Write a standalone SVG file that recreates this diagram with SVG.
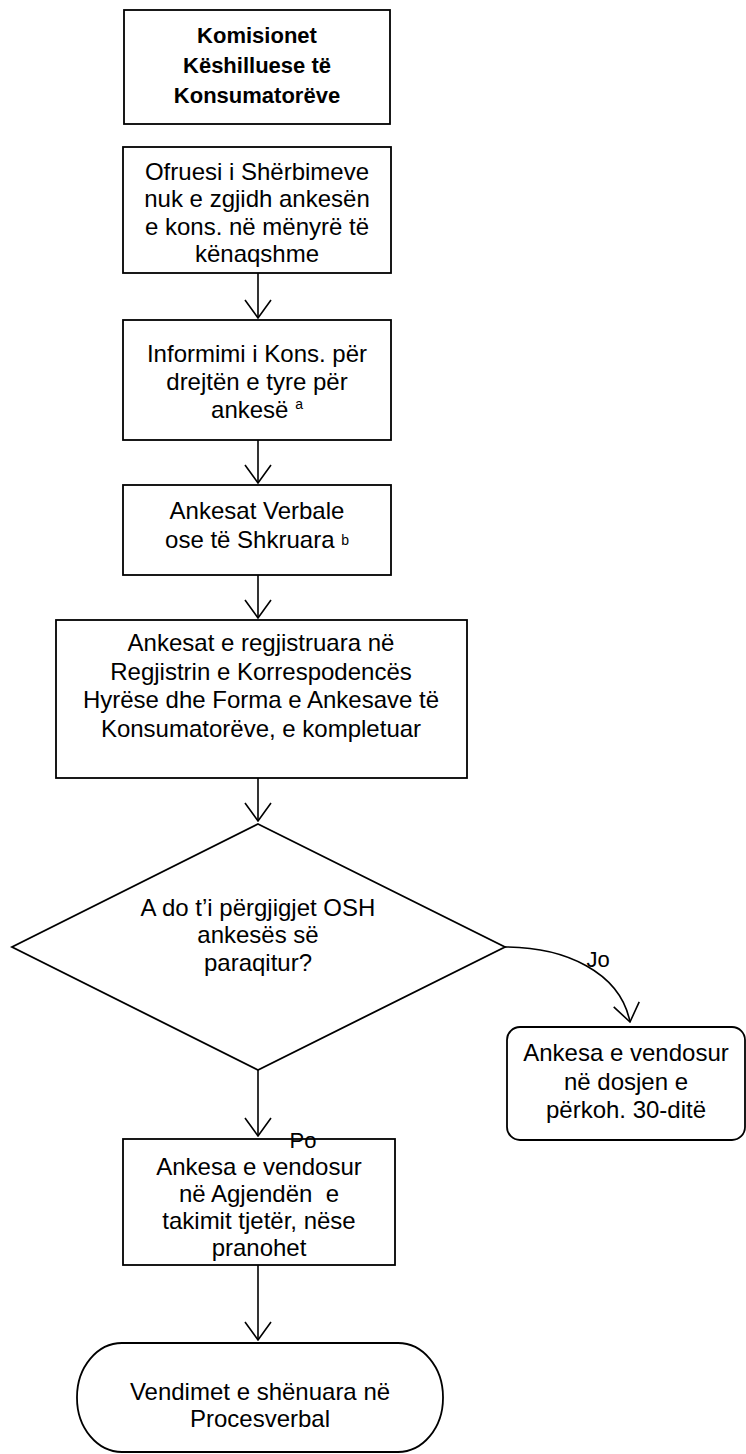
<svg xmlns="http://www.w3.org/2000/svg" width="746" height="1454" viewBox="0 0 746 1454">
<style>
.box{fill:#fff;stroke:#000;stroke-width:1.8}
.t{font-family:"Liberation Sans",Arial,sans-serif;font-size:24px;fill:#000;text-anchor:middle}
.b{font-weight:bold;font-size:22px}
.sup{font-size:14px}
.lbl{font-size:22px}
.c{fill:none;stroke:#000;stroke-width:1.6}
</style>
<defs>
<marker id="ah" viewBox="0 0 20 30" refX="19" refY="15" markerWidth="20" markerHeight="30" markerUnits="userSpaceOnUse" orient="auto">
<path d="M1,2 L19,15 L1,28" fill="none" stroke="#000" stroke-width="1.6"/>
</marker>
</defs>
<rect width="746" height="1454" fill="#fff"/>
<g id="n1">
<rect class="box" x="124" y="10" width="266" height="114"/>
<text class="t b" x="257" y="43">Komisionet</text>
<text class="t b" x="257" y="73">Këshilluese të</text>
<text class="t b" x="257" y="103">Konsumatorëve</text>
</g>
<g id="n2">
<rect class="box" x="123" y="147" width="268" height="126"/>
<text class="t" x="257" y="180">Ofruesi i Shërbimeve</text>
<text class="t" x="257" y="207">nuk e zgjidh ankesën</text>
<text class="t" x="257" y="235">e kons. në mënyrë të</text>
<text class="t" x="257" y="262">kënaqshme</text>
</g>
<g id="n3">
<rect class="box" x="123" y="320" width="268" height="120"/>
<text class="t" x="257" y="362">Informimi i Kons. për</text>
<text class="t" x="257" y="390">drejtën e tyre për</text>
<text class="t" x="257" y="418">ankesë <tspan class="sup" dy="-9">a</tspan></text>
</g>
<g id="n4">
<rect class="box" x="123" y="485" width="268" height="90"/>
<text class="t" x="257" y="519">Ankesat Verbale</text>
<text class="t" x="257" y="548">ose të Shkruara <tspan class="sup" dy="-3">b</tspan></text>
</g>
<g id="n5">
<rect class="box" x="56" y="620" width="411" height="158"/>
<text class="t" x="261" y="651">Ankesat e regjistruara në</text>
<text class="t" x="261" y="680">Regjistrin e Korrespodencës</text>
<text class="t" x="261" y="708">Hyrëse dhe Forma e Ankesave të</text>
<text class="t" x="261" y="737">Konsumatorëve, e kompletuar</text>
</g>
<g id="n6">
<polygon class="box" points="258,824 505,947 258,1070 12,947"/>
<text class="t" x="258" y="916">A do t’i përgjigjet OSH</text>
<text class="t" x="258" y="943">ankesës së</text>
<text class="t" x="258" y="971">paraqitur?</text>
</g>
<g id="n7">
<rect class="box" x="507" y="1027" width="238" height="113" rx="13"/>
<text class="t" x="626" y="1061">Ankesa e vendosur</text>
<text class="t" x="626" y="1090">në dosjen e</text>
<text class="t" x="626" y="1118">përkoh. 30-ditë</text>
</g>
<g id="n8">
<rect class="box" x="123" y="1139" width="272" height="126"/>
<text class="t" x="259" y="1175">Ankesa e vendosur</text>
<text class="t" x="259" y="1202">në Agjendën&#160; e</text>
<text class="t" x="259" y="1229">takimit tjetër, nëse</text>
<text class="t" x="259" y="1256">pranohet</text>
</g>
<g id="n9">
<rect class="box" x="77" y="1343" width="366" height="109" rx="45" ry="54"/>
<text class="t" x="260" y="1400">Vendimet e shënuara në</text>
<text class="t" x="260" y="1427">Procesverbal</text>
</g>
<g id="connectors">
<line class="c" x1="258" y1="273" x2="258" y2="318" marker-end="url(#ah)"/>
<line class="c" x1="258" y1="440" x2="258" y2="483" marker-end="url(#ah)"/>
<line class="c" x1="258" y1="575" x2="258" y2="618" marker-end="url(#ah)"/>
<line class="c" x1="258" y1="778" x2="258" y2="821" marker-end="url(#ah)"/>
<line class="c" x1="258" y1="1070" x2="258" y2="1136" marker-end="url(#ah)"/>
<line class="c" x1="258" y1="1265" x2="258" y2="1340" marker-end="url(#ah)"/>
<path class="c" d="M505,947 C565,947 620,972 630,1022" marker-end="url(#ah)"/>
<text class="t lbl" x="598" y="967">Jo</text>
<text class="t lbl" x="303" y="1148">Po</text>
</g>
</svg>
